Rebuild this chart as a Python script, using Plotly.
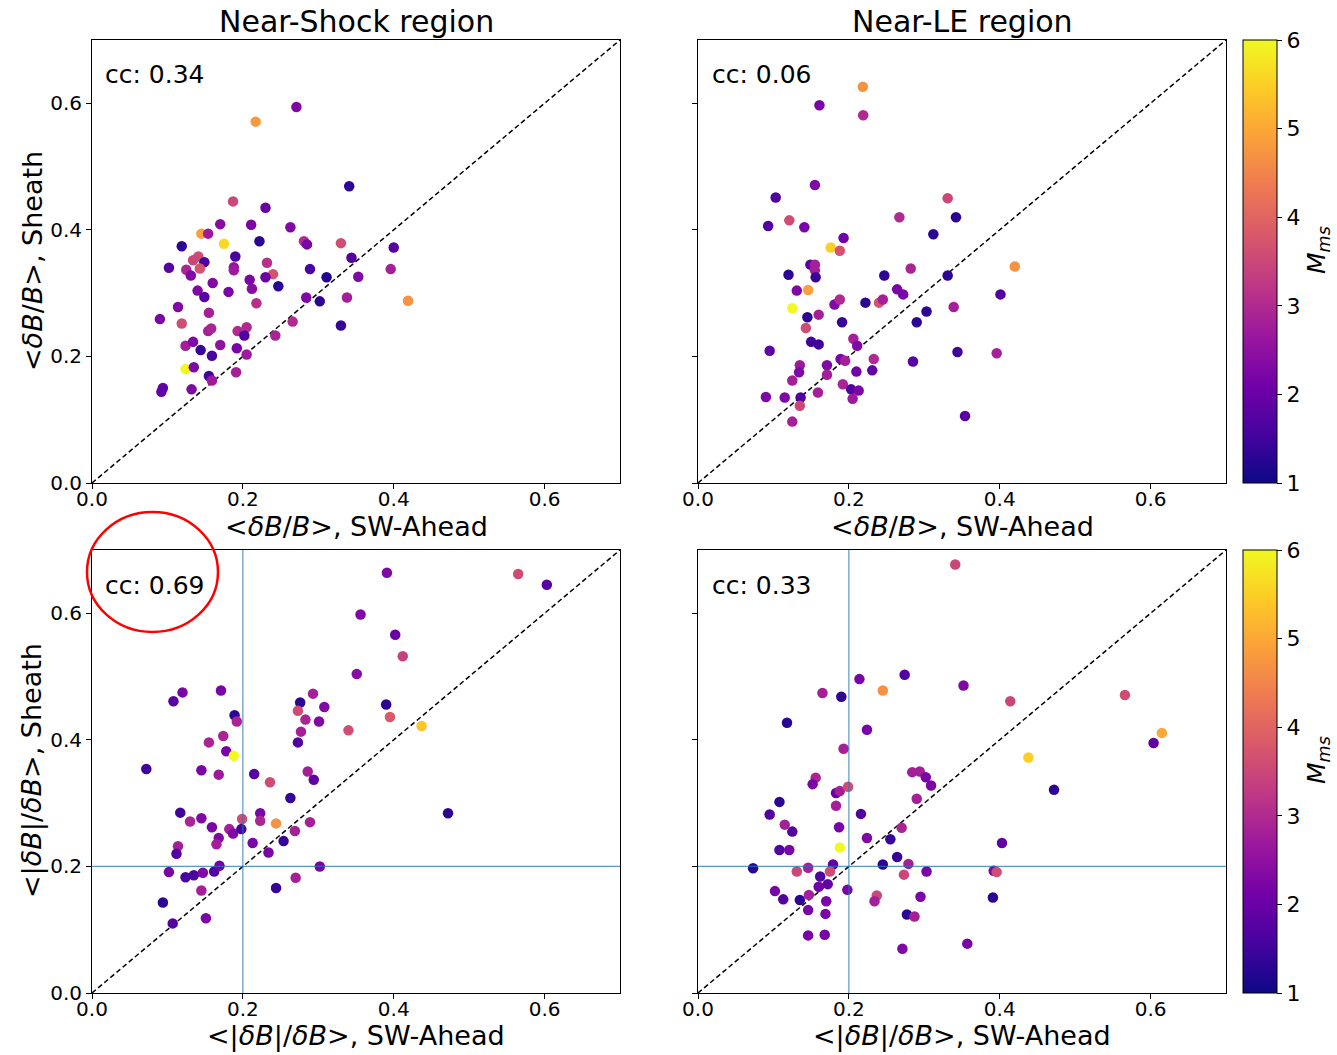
import plotly.graph_objects as go

# ---- Near-Shock region, <dB/B> (SW-Ahead vs Sheath) ----
ns_rel_x = [0.271, 0.217, 0.341, 0.187, 0.230, 0.170, 0.211, 0.263, 0.145, 0.154,
            0.175, 0.119, 0.222, 0.281, 0.285, 0.330, 0.400, 0.190, 0.344, 0.141,
            0.134, 0.149, 0.232, 0.102, 0.125, 0.143, 0.188, 0.188, 0.131, 0.240,
            0.230, 0.289, 0.311, 0.353, 0.396, 0.160, 0.209, 0.247, 0.140, 0.212,
            0.149, 0.181, 0.284, 0.302, 0.338, 0.419, 0.218, 0.114, 0.090, 0.119,
            0.155, 0.266, 0.330, 0.154, 0.158, 0.193, 0.205, 0.202, 0.243, 0.124,
            0.134, 0.170, 0.144, 0.159, 0.192, 0.205, 0.124, 0.135, 0.191, 0.155,
            0.159, 0.132, 0.094, 0.092]
ns_rel_y = [0.594, 0.571, 0.469, 0.445, 0.435, 0.409, 0.408, 0.404, 0.394, 0.394,
            0.378, 0.374, 0.382, 0.382, 0.377, 0.379, 0.372, 0.358, 0.356, 0.358,
            0.352, 0.349, 0.348, 0.340, 0.337, 0.339, 0.341, 0.336, 0.328, 0.330,
            0.325, 0.338, 0.325, 0.326, 0.338, 0.316, 0.321, 0.311, 0.304, 0.307,
            0.294, 0.302, 0.293, 0.287, 0.293, 0.288, 0.284, 0.278, 0.259, 0.252,
            0.269, 0.255, 0.249, 0.240, 0.244, 0.240, 0.246, 0.233, 0.233, 0.217,
            0.223, 0.218, 0.210, 0.201, 0.213, 0.203, 0.180, 0.183, 0.175, 0.169,
            0.162, 0.148, 0.150, 0.144]
ns_rel_m = [2.3, 4.8, 1.3, 3.5, 2.0, 2.4, 2.2, 2.3, 4.9, 2.7,
            5.6, 1.3, 1.3, 3.0, 2.2, 3.6, 1.8, 1.6, 1.7, 3.6,
            3.5, 1.6, 3.1, 1.8, 2.9, 3.7, 2.6, 2.7, 2.3, 3.7,
            2.0, 1.6, 1.2, 2.3, 2.8, 2.3, 2.2, 1.3, 2.3, 2.4,
            1.8, 2.2, 2.3, 1.3, 2.8, 4.7, 3.1, 2.3, 2.2, 3.6,
            2.8, 3.0, 1.4, 2.8, 2.9, 3.0, 3.0, 1.7, 2.9, 2.8,
            2.3, 2.5, 1.4, 1.6, 2.2, 2.7, 6.0, 2.3, 2.8, 1.5,
            2.7, 2.3, 1.9, 1.9]

# ---- Near-LE region, <dB/B> ----
le_rel_x = [0.2185, 0.161, 0.219, 0.155, 0.103, 0.331, 0.121, 0.267, 0.342, 0.093,
            0.141, 0.312, 0.193, 0.176, 0.188, 0.420, 0.149, 0.155, 0.155, 0.120,
            0.156, 0.247, 0.282, 0.331, 0.131, 0.146, 0.264, 0.272, 0.401, 0.125,
            0.181, 0.188, 0.222, 0.240, 0.245, 0.303, 0.290, 0.339, 0.145, 0.160,
            0.191, 0.143, 0.150, 0.160, 0.206, 0.211, 0.095, 0.344, 0.396, 0.189,
            0.195, 0.233, 0.285, 0.135, 0.134, 0.171, 0.171, 0.210, 0.231, 0.125,
            0.192, 0.203, 0.213, 0.159, 0.090, 0.115, 0.136, 0.205, 0.135, 0.125,
            0.354]
le_rel_y = [0.626, 0.597, 0.581, 0.471, 0.451, 0.450, 0.415, 0.420, 0.420, 0.406,
            0.404, 0.393, 0.387, 0.372, 0.367, 0.342, 0.345, 0.345, 0.336, 0.329,
            0.325, 0.328, 0.339, 0.328, 0.304, 0.305, 0.306, 0.298, 0.298, 0.276,
            0.282, 0.290, 0.285, 0.285, 0.290, 0.271, 0.254, 0.278, 0.262, 0.266,
            0.254, 0.245, 0.223, 0.219, 0.228, 0.217, 0.209, 0.207, 0.205, 0.196,
            0.193, 0.196, 0.192, 0.186, 0.175, 0.186, 0.171, 0.176, 0.178, 0.162,
            0.156, 0.148, 0.146, 0.143, 0.136, 0.135, 0.135, 0.133, 0.122, 0.097,
            0.106]
le_rel_m = [4.7, 2.2, 3.0, 2.3, 1.7, 3.5, 3.6, 3.0, 1.3, 1.7,
            2.2, 1.3, 2.1, 5.5, 3.7, 4.7, 1.8, 2.8, 2.8, 1.3,
            1.4, 1.3, 2.9, 1.3, 2.3, 4.9, 2.2, 2.2, 1.7, 6.0,
            2.3, 3.0, 1.3, 3.7, 2.8, 1.3, 1.3, 2.8, 1.3, 2.8,
            1.4, 3.6, 1.5, 1.5, 2.8, 2.3, 1.9, 1.5, 2.8, 2.2,
            2.8, 3.0, 1.8, 2.7, 2.3, 2.3, 2.8, 2.1, 1.9, 2.8,
            2.9, 1.7, 2.2, 2.8, 2.3, 2.3, 1.7, 2.7, 3.5, 2.8,
            1.8]

# ---- Near-Shock region, <|dB|/dB> ----
ns_abs_x = [0.391, 0.356, 0.402, 0.412, 0.351, 0.108, 0.120, 0.171, 0.189, 0.192,
            0.174, 0.155, 0.178, 0.188, 0.276, 0.293, 0.308, 0.273, 0.283, 0.301,
            0.277, 0.273, 0.340, 0.390, 0.395, 0.437, 0.072, 0.145, 0.168, 0.215,
            0.236, 0.286, 0.294, 0.263, 0.117, 0.130, 0.145, 0.159, 0.199, 0.223,
            0.223, 0.244, 0.289, 0.182, 0.187, 0.198, 0.168, 0.165, 0.269, 0.213,
            0.254, 0.234, 0.114, 0.112, 0.102, 0.124, 0.135, 0.147, 0.162, 0.169,
            0.145, 0.094, 0.107, 0.151, 0.302, 0.270, 0.244, 0.565, 0.603, 0.472]
ns_abs_y = [0.664, 0.598, 0.566, 0.532, 0.504, 0.461, 0.475, 0.478, 0.439, 0.429,
            0.406, 0.396, 0.382, 0.375, 0.459, 0.473, 0.452, 0.446, 0.432, 0.429,
            0.413, 0.396, 0.415, 0.456, 0.436, 0.422, 0.354, 0.352, 0.345, 0.346,
            0.333, 0.350, 0.337, 0.308, 0.285, 0.271, 0.276, 0.262, 0.275, 0.284,
            0.272, 0.268, 0.270, 0.259, 0.252, 0.259, 0.245, 0.235, 0.256, 0.237,
            0.240, 0.222, 0.232, 0.220, 0.191, 0.183, 0.186, 0.190, 0.192, 0.201,
            0.162, 0.143, 0.110, 0.118, 0.200, 0.182, 0.166, 0.662, 0.645, 0.284]
ns_abs_m = [2.3, 2.3, 2.0, 3.4, 2.4, 1.8, 2.2, 2.2, 1.3, 2.9,
            2.9, 2.9, 2.2, 6.0, 1.3, 2.8, 2.3, 3.6, 2.9, 2.3,
            2.8, 1.7, 3.6, 1.3, 3.8, 5.4, 1.5, 2.2, 2.7, 1.7,
            3.6, 2.8, 1.9, 1.4, 1.5, 2.9, 2.3, 2.2, 3.6, 2.2,
            2.9, 4.7, 2.8, 2.8, 2.3, 1.6, 2.3, 2.8, 2.8, 2.2,
            1.4, 2.2, 2.8, 1.7, 2.2, 1.6, 1.6, 2.3, 1.7, 2.1,
            2.8, 1.3, 1.7, 2.2, 2.2, 2.8, 1.4, 3.6, 1.8, 1.3]

# ---- Near-LE region, <|dB|/dB> ----
le_abs_x = [0.341, 0.274, 0.214, 0.245, 0.165, 0.190, 0.352, 0.414, 0.566, 0.118,
            0.224, 0.193, 0.615, 0.604, 0.438, 0.284, 0.294, 0.302, 0.156, 0.152,
            0.183, 0.188, 0.199, 0.183, 0.108, 0.095, 0.115, 0.125, 0.187, 0.216,
            0.290, 0.309, 0.270, 0.224, 0.255, 0.403, 0.188, 0.108, 0.121, 0.264,
            0.179, 0.279, 0.245, 0.073, 0.146, 0.131, 0.175, 0.303, 0.392, 0.396,
            0.273, 0.162, 0.160, 0.172, 0.198, 0.102, 0.113, 0.147, 0.135, 0.170,
            0.237, 0.234, 0.295, 0.391, 0.146, 0.169, 0.277, 0.287, 0.146, 0.168,
            0.271, 0.357, 0.472]
le_abs_y = [0.677, 0.503, 0.496, 0.478, 0.474, 0.468, 0.486, 0.461, 0.471, 0.427,
            0.416, 0.386, 0.411, 0.395, 0.372, 0.349, 0.350, 0.341, 0.340, 0.330,
            0.316, 0.319, 0.326, 0.296, 0.302, 0.282, 0.266, 0.255, 0.262, 0.283,
            0.307, 0.328, 0.261, 0.245, 0.243, 0.237, 0.230, 0.226, 0.226, 0.215,
            0.203, 0.204, 0.203, 0.197, 0.198, 0.192, 0.192, 0.192, 0.193, 0.191,
            0.187, 0.184, 0.168, 0.172, 0.163, 0.161, 0.148, 0.155, 0.147, 0.145,
            0.154, 0.145, 0.152, 0.151, 0.131, 0.125, 0.124, 0.121, 0.091, 0.092,
            0.070, 0.078, 0.321]
le_abs_m = [3.5, 1.7, 2.2, 4.7, 2.8, 1.3, 2.3, 3.5, 3.6, 1.3,
            2.2, 2.8, 5.0, 1.9, 5.5, 2.8, 2.8, 2.2, 2.9, 2.2,
            2.0, 2.8, 3.6, 2.8, 1.3, 1.7, 2.8, 1.7, 2.2, 1.7,
            2.8, 2.2, 2.9, 2.3, 1.4, 1.9, 6.0, 1.7, 2.2, 1.4,
            1.9, 2.8, 1.3, 1.3, 2.8, 3.5, 3.6, 2.2, 2.3, 3.6,
            3.5, 1.7, 2.1, 1.9, 2.2, 2.2, 1.7, 2.8, 1.3, 2.2,
            3.5, 2.8, 2.2, 1.3, 2.2, 2.2, 1.3, 2.8, 2.2, 2.2,
            2.3, 2.2, 1.3]

# labels
panel_titles = ["Near-Shock region", "Near-LE region"]
cc_labels = ["cc: 0.34", "cc: 0.06", "cc: 0.69", "cc: 0.33"]
tick_vals = [0.0, 0.2, 0.4, 0.6]
tick_text = ["0.0", "0.2", "0.4", "0.6"]
cbar_ticks = [1, 2, 3, 4, 5, 6]

W, H = 1337, 1055
FONT = "DejaVu Sans"


def px(x):
    return x / W


def py(y):
    return 1 - y / H


# plot-area edges in pixels
cols = [(92, 620), (698, 1226)]
rows = [(40, 483), (550, 993)]

fig = go.Figure()

panels = [
    (ns_rel_x, ns_rel_y, ns_rel_m, "x", "y", "coloraxis"),
    (le_rel_x, le_rel_y, le_rel_m, "x2", "y2", "coloraxis"),
    (ns_abs_x, ns_abs_y, ns_abs_m, "x3", "y3", "coloraxis2"),
    (le_abs_x, le_abs_y, le_abs_m, "x4", "y4", "coloraxis2"),
]

for i, (xs, ys, ms, xa, ya, ca) in enumerate(panels):
    # one-to-one reference line
    fig.add_trace(go.Scatter(x=[0, 0.7], y=[0, 0.7], mode="lines",
                             line=dict(color="black", width=1.5, dash="5px,3px"),
                             xaxis=xa, yaxis=ya, showlegend=False, hoverinfo="skip"))
    fig.add_trace(go.Scatter(x=xs, y=ys, mode="markers",
                             marker=dict(size=10.5, color=ms, coloraxis=ca,
                                         line=dict(width=0)),
                             xaxis=xa, yaxis=ya, showlegend=False))

axis_common = dict(range=[0, 0.7], tickvals=tick_vals, ticktext=tick_text,
                   ticks="outside", ticklen=5, tickwidth=1, tickcolor="black",
                   showline=True, mirror=True, linecolor="black", linewidth=1,
                   showgrid=False, zeroline=False, automargin=False,
                   tickfont=dict(family=FONT, size=20, color="black"))

layout_axes = {}
names = [("xaxis", "yaxis"), ("xaxis2", "yaxis2"), ("xaxis3", "yaxis3"), ("xaxis4", "yaxis4")]
anchors = [("y", "x"), ("y2", "x2"), ("y3", "x3"), ("y4", "x4")]
for k, ((xn, yn), (xanc, yanc)) in enumerate(zip(names, anchors)):
    c = cols[k % 2]
    r = rows[k // 2]
    layout_axes[xn] = dict(axis_common, domain=[px(c[0]), px(c[1])], anchor=xanc,
                           ticklabelstandoff=-7)
    layout_axes[yn] = dict(axis_common, domain=[py(r[1]), py(r[0])], anchor=yanc,
                           showticklabels=(k % 2 == 0))

fig.update_layout(template="none", **layout_axes)


def cbar(row):
    r = rows[row]
    return dict(x=px(1243), xanchor="left", xpad=0, ypad=0,
                y=py((r[0] + r[1]) / 2), yanchor="middle",
                len=(r[1] - r[0]) / H, lenmode="fraction",
                thickness=34, thicknessmode="pixels",
                outlinecolor="black", outlinewidth=1,
                tickvals=cbar_ticks, ticks="outside", ticklen=5,
                tickcolor="black",
                tickfont=dict(family=FONT, size=22, color="black"))


fig.update_layout(
    coloraxis=dict(colorscale="Plasma", cmin=1, cmax=6, colorbar=cbar(0)),
    coloraxis2=dict(colorscale="Plasma", cmin=1, cmax=6, colorbar=cbar(1)),
)

# reference lines at 0.2 in the |dB|/dB panels
shapes = []
for xa, ya in [("x3", "y3"), ("x4", "y4")]:
    shapes.append(dict(type="line", xref=xa, yref=ya, x0=0.2, x1=0.2, y0=0, y1=0.7,
                       line=dict(color="rgba(31,119,180,0.75)", width=1.2)))
    shapes.append(dict(type="line", xref=xa, yref=ya, x0=0, x1=0.7, y0=0.2, y1=0.2,
                       line=dict(color="rgba(31,119,180,0.75)", width=1.2)))
# highlight around the strongest correlation
shapes.append(dict(type="circle", xref="paper", yref="paper",
                   x0=px(87), x1=px(218), y0=py(632), y1=py(512),
                   line=dict(color="red", width=2.5)))

ann = []


def text(x, y, s, size, xanchor="center", **kw):
    d = dict(x=px(x), y=py(y), xref="paper", yref="paper", text=s, showarrow=False,
             xanchor=xanchor, yanchor="middle",
             font=dict(family=FONT, size=size, color="black"))
    d.update(kw)
    ann.append(d)


text(356, 22, panel_titles[0], 30)
text(962, 22, panel_titles[1], 30)

lbl_rel_x = "&lt;<i>δB</i>/<i>B</i>&gt;, SW-Ahead"
lbl_rel_y = "&lt;<i>δB</i>/<i>B</i>&gt;, Sheath"
lbl_abs_x = "&lt;|<i>δB</i>|/<i>δB</i>&gt;, SW-Ahead"
lbl_abs_y = "&lt;|<i>δB</i>|/<i>δB</i>&gt;, Sheath"
text(356, 526, lbl_rel_x, 27)
text(962, 526, lbl_rel_x, 27)
text(356, 1036, lbl_abs_x, 27)
text(962, 1036, lbl_abs_x, 27)
text(32, 261, lbl_rel_y, 27, textangle=-90)
text(32, 771, lbl_abs_y, 27, textangle=-90)

cc_pos = [(103, 75), (710, 75), (103, 585), (710, 585)]
for (x, y), s in zip(cc_pos, cc_labels):
    text(x, y, s, 25, xanchor="left")

mlabel = "<i>M</i><sub><i>ms</i></sub>"
text(1318, 250, mlabel, 25, textangle=-90)
text(1318, 760, mlabel, 25, textangle=-90)

fig.update_layout(width=W, height=H, margin=dict(l=0, r=0, t=0, b=0),
                  paper_bgcolor="white", plot_bgcolor="white",
                  shapes=shapes, annotations=ann, showlegend=False)

fig.write_html("out.html")
